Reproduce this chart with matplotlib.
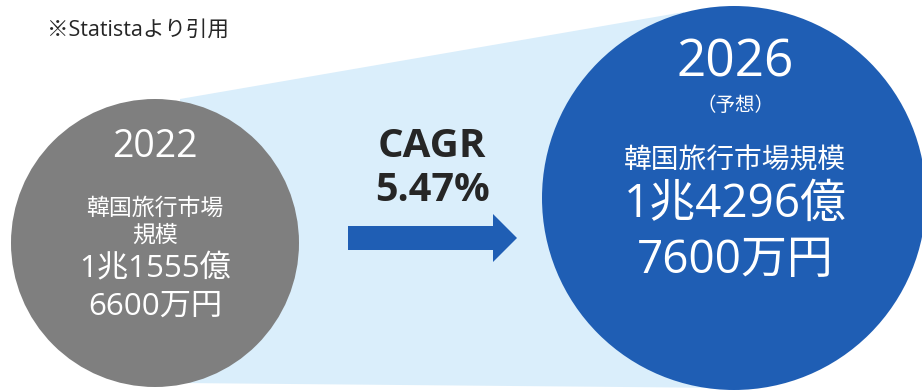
import matplotlib
matplotlib.use("Agg")
import matplotlib.pyplot as plt
from matplotlib.patches import Circle, Polygon, FancyArrow

plt.rcParams['font.family'] = ['Open Sans', 'Noto Sans CJK JP', 'DejaVu Sans']

# Data
years = ["2022", "2026"]
year_notes = ["", "（予想）"]
market_titles = ["韓国旅行市場\n規模", "韓国旅行市場規模"]
market_values = [("1兆1555億", "6600万円"), ("1兆4296億", "7600万円")]
cagr_label = "CAGR"
cagr_value = 5.47
source_note = "※Statistaより引用"

# Colours
GRAY = "#7f7f7f"
BLUE = "#1f5eb4"
PALE = "#daeefb"
DARK = "#262626"

W, H = 922, 392
fig = plt.figure(figsize=(W / 100, H / 100), dpi=100)
ax = fig.add_axes([0, 0, 1, 1])
ax.set_xlim(0, W)
ax.set_ylim(H, 0)
ax.axis("off")

# circle geometry (pixel units)
lc, lr = (155, 243), 144
rc, rr = (734, 198), 192

# pale band joining the two circles
band = Polygon([(lc[0] + 25, lc[1] - lr), (rc[0] - 50, rc[1] - rr + 6),
                (rc[0], 388), (lc[0] + 25, 383)],
               closed=True, facecolor=PALE, edgecolor="none", zorder=1)
ax.add_patch(band)

ax.add_patch(Circle(lc, lr, facecolor=GRAY, edgecolor="none", zorder=2))
ax.add_patch(Circle(rc, rr, facecolor=BLUE, edgecolor="none", zorder=2))

# arrow
ax.add_patch(FancyArrow(348, 238, 169, 0, width=24, head_width=48,
                        head_length=24, length_includes_head=True,
                        facecolor=BLUE, edgecolor="none", zorder=3))

# CAGR
ax.text(432, 157, cagr_label, ha="center", va="baseline", fontsize=29,
        fontweight="bold", color=DARK, zorder=4)
ax.text(432, 201, f"{cagr_value:.2f}%", ha="center", va="baseline",
        fontsize=28.5, fontweight="bold", color=DARK, zorder=4)

# source
ax.text(47, 36, source_note, ha="left", va="baseline", fontsize=15.5,
        color=DARK, zorder=4)

# left circle text
x = lc[0]
ax.text(x, 157, years[0], ha="center", va="baseline", fontsize=27,
        color="white", zorder=4)
t1, t2 = market_titles[0].split("\n")
ax.text(x, 215, t1, ha="center", va="baseline", fontsize=16.5, color="white", zorder=4)
ax.text(x, 242, t2, ha="center", va="baseline", fontsize=16.5, color="white", zorder=4)
ax.text(x, 277, market_values[0][0], ha="center", va="baseline", fontsize=22.5,
        color="white", zorder=4)
ax.text(x, 315, market_values[0][1], ha="center", va="baseline", fontsize=22.5,
        color="white", zorder=4)

# right circle text
x = rc[0] + 1
ax.text(x, 76, years[1], ha="center", va="baseline", fontsize=37,
        color="white", zorder=4)
ax.text(x, 111, year_notes[1], ha="center", va="baseline", fontsize=14,
        color="white", zorder=4)
ax.text(x, 169, market_titles[1], ha="center", va="baseline", fontsize=20,
        color="white", zorder=4)
ax.text(x, 217, market_values[1][0], ha="center", va="baseline", fontsize=33,
        color="white", zorder=4)
ax.text(x, 273, market_values[1][1], ha="center", va="baseline", fontsize=33,
        color="white", zorder=4)

fig.savefig("out.png", dpi=100, facecolor="white")
